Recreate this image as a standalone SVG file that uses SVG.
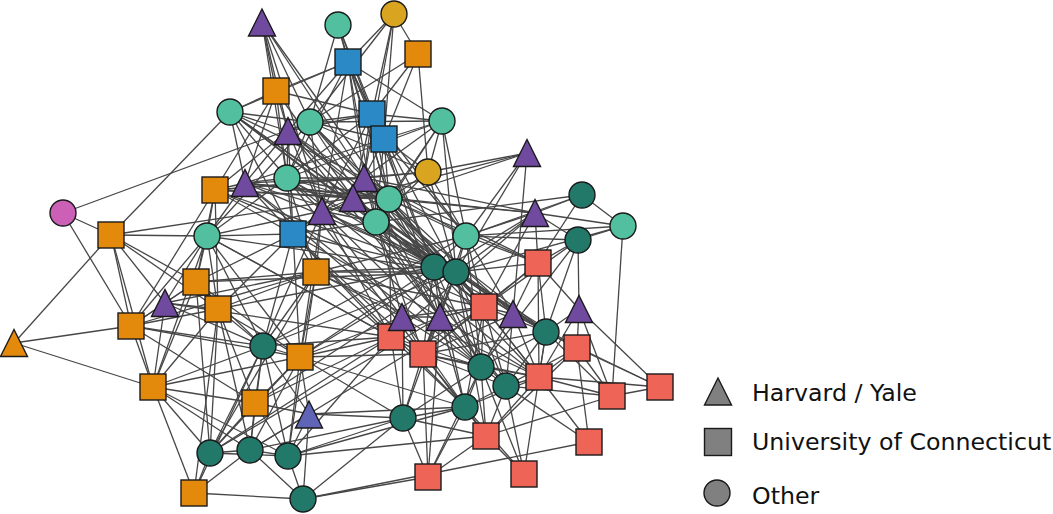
<svg xmlns="http://www.w3.org/2000/svg" xmlns:xlink="http://www.w3.org/1999/xlink" width="1053" height="514" viewBox="0 0 1053 514">
<style>
#edges path{stroke:#474747;stroke-width:1.3;fill:none}
.nd use,.lg use{stroke:#1a1a1a;stroke-width:1.4}
.mint{fill:#52bf9f}.dark{fill:#22796a}.orange{fill:#e3890c}.blue{fill:#2b89c5}.gold{fill:#d9a41f}.purple{fill:#704a9f}.coral{fill:#ee6557}.pink{fill:#cc60b6}.bp{fill:#5f64b6}.grey{fill:#808080}
text{font-family:"DejaVu Sans","Liberation Sans",sans-serif;font-size:23.7px;fill:#111}
</style>
<defs>
<rect id="sq" x="-13" y="-13" width="26" height="26"/>
<circle id="ci" r="13"/>
<path id="tr" d="M0,-13.5L13.5,13.5H-13.5Z"/>
</defs>
<rect width="1053" height="514" fill="#fff"/>
<g id="edges">
<path d="M262 22L276 91"/><path d="M262 22L310 122"/><path d="M262 22L288 131"/><path d="M262 22L287 178"/><path d="M262 22L364 178"/><path d="M262 22L389 199"/><path d="M262 22L322 211"/>
<path d="M338 25L348 62"/><path d="M338 25L310 122"/><path d="M338 25L372 114"/><path d="M338 25L384 139"/><path d="M338 25L389 199"/>
<path d="M394 14L418 54"/><path d="M394 14L348 62"/><path d="M394 14L372 114"/><path d="M394 14L384 139"/><path d="M394 14L310 122"/><path d="M394 14L364 178"/>
<path d="M418 54L372 114"/><path d="M418 54L384 139"/><path d="M418 54L428 172"/><path d="M418 54L310 122"/>
<path d="M348 62L276 91"/><path d="M348 62L230 112"/><path d="M348 62L288 131"/><path d="M348 62L372 114"/><path d="M348 62L384 139"/><path d="M348 62L442 121"/><path d="M348 62L287 178"/><path d="M348 62L364 178"/><path d="M348 62L389 199"/><path d="M348 62L376 222"/><path d="M348 62L322 211"/><path d="M348 62L434 267"/>
<path d="M276 91L230 112"/><path d="M276 91L288 131"/><path d="M276 91L287 178"/><path d="M276 91L245 183"/><path d="M276 91L215 190"/><path d="M276 91L353 198"/><path d="M276 91L372 114"/>
<path d="M230 112L310 122"/><path d="M230 112L288 131"/><path d="M230 112L287 178"/><path d="M230 112L245 183"/><path d="M230 112L364 178"/><path d="M230 112L353 198"/><path d="M230 112L376 222"/><path d="M230 112L111 235"/><path d="M230 112L293 234"/><path d="M230 112L456 272"/><path d="M230 112L484 307"/>
<path d="M310 122L288 131"/><path d="M310 122L372 114"/><path d="M310 122L384 139"/><path d="M310 122L442 121"/><path d="M310 122L287 178"/><path d="M310 122L364 178"/><path d="M310 122L389 199"/><path d="M310 122L376 222"/><path d="M310 122L322 211"/><path d="M310 122L63 213"/><path d="M310 122L434 267"/><path d="M310 122L428 172"/><path d="M310 122L207 236"/>
<path d="M288 131L287 178"/><path d="M288 131L245 183"/><path d="M288 131L215 190"/><path d="M288 131L353 198"/><path d="M288 131L322 211"/><path d="M288 131L293 234"/><path d="M288 131L456 272"/><path d="M288 131L389 199"/><path d="M288 131L372 114"/><path d="M288 131L440 317"/><path d="M288 131L546 332"/>
<path d="M372 114L384 139"/><path d="M372 114L442 121"/><path d="M372 114L287 178"/><path d="M372 114L364 178"/><path d="M372 114L353 198"/><path d="M372 114L389 199"/><path d="M372 114L376 222"/><path d="M372 114L456 272"/><path d="M372 114L466 236"/><path d="M372 114L322 211"/>
<path d="M384 139L442 121"/><path d="M384 139L428 172"/><path d="M384 139L364 178"/><path d="M384 139L389 199"/><path d="M384 139L376 222"/><path d="M384 139L434 267"/><path d="M384 139L245 183"/><path d="M384 139L466 236"/><path d="M384 139L440 317"/>
<path d="M442 121L428 172"/><path d="M442 121L389 199"/><path d="M442 121L376 222"/><path d="M442 121L364 178"/><path d="M442 121L466 236"/><path d="M442 121L456 272"/><path d="M442 121L287 178"/>
<path d="M428 172L389 199"/><path d="M428 172L527 153"/><path d="M428 172L466 236"/><path d="M428 172L364 178"/><path d="M428 172L376 222"/><path d="M428 172L456 272"/><path d="M428 172L215 190"/>
<path d="M287 178L245 183"/><path d="M287 178L364 178"/><path d="M287 178L353 198"/><path d="M287 178L389 199"/><path d="M287 178L322 211"/><path d="M287 178L293 234"/><path d="M287 178L207 236"/><path d="M287 178L434 267"/><path d="M287 178L456 272"/><path d="M287 178L316 272"/><path d="M287 178L423 354"/><path d="M287 178L539 377"/>
<path d="M245 183L215 190"/><path d="M245 183L364 178"/><path d="M245 183L353 198"/><path d="M245 183L389 199"/><path d="M245 183L293 234"/><path d="M245 183L207 236"/><path d="M245 183L376 222"/><path d="M245 183L456 272"/><path d="M245 183L535 213"/><path d="M245 183L402 317"/><path d="M245 183L481 367"/>
<path d="M215 190L364 178"/><path d="M215 190L353 198"/><path d="M215 190L389 199"/><path d="M215 190L293 234"/><path d="M215 190L207 236"/><path d="M215 190L196 282"/><path d="M215 190L218 309"/><path d="M215 190L131 326"/><path d="M215 190L434 267"/><path d="M215 190L484 307"/>
<path d="M364 178L353 198"/><path d="M364 178L389 199"/><path d="M364 178L376 222"/><path d="M364 178L322 211"/><path d="M364 178L293 234"/><path d="M364 178L466 236"/><path d="M364 178L434 267"/><path d="M364 178L456 272"/><path d="M364 178L484 307"/><path d="M364 178L440 317"/><path d="M364 178L535 213"/><path d="M364 178L538 263"/>
<path d="M353 198L389 199"/><path d="M353 198L376 222"/><path d="M353 198L322 211"/><path d="M353 198L293 234"/><path d="M353 198L434 267"/><path d="M353 198L456 272"/><path d="M353 198L440 317"/><path d="M353 198L484 307"/><path d="M353 198L546 332"/><path d="M353 198L111 235"/><path d="M353 198L527 153"/>
<path d="M389 199L376 222"/><path d="M389 199L322 211"/><path d="M389 199L466 236"/><path d="M389 199L434 267"/><path d="M389 199L456 272"/><path d="M389 199L527 153"/><path d="M389 199L535 213"/><path d="M389 199L538 263"/><path d="M389 199L484 307"/><path d="M389 199L513 314"/><path d="M389 199L481 367"/><path d="M389 199L391 337"/>
<path d="M376 222L322 211"/><path d="M376 222L293 234"/><path d="M376 222L434 267"/><path d="M376 222L456 272"/><path d="M376 222L582 195"/><path d="M376 222L440 317"/><path d="M376 222L402 317"/><path d="M376 222L423 354"/><path d="M376 222L546 332"/><path d="M376 222L484 307"/><path d="M376 222L506 386"/>
<path d="M322 211L293 234"/><path d="M322 211L207 236"/><path d="M322 211L316 272"/><path d="M322 211L434 267"/><path d="M322 211L456 272"/><path d="M322 211L391 337"/><path d="M322 211L402 317"/><path d="M322 211L300 357"/><path d="M322 211L263 346"/><path d="M322 211L481 367"/>
<path d="M293 234L207 236"/><path d="M293 234L316 272"/><path d="M293 234L263 346"/><path d="M293 234L300 357"/><path d="M293 234L218 309"/><path d="M293 234L434 267"/><path d="M293 234L391 337"/><path d="M293 234L196 282"/><path d="M293 234L440 317"/><path d="M293 234L423 354"/><path d="M293 234L465 407"/>
<path d="M207 236L111 235"/><path d="M207 236L196 282"/><path d="M207 236L218 309"/><path d="M207 236L131 326"/><path d="M207 236L165 303"/><path d="M207 236L263 346"/><path d="M207 236L456 272"/><path d="M207 236L153 387"/><path d="M207 236L391 337"/><path d="M207 236L300 357"/><path d="M207 236L423 354"/>
<path d="M63 213L111 235"/><path d="M63 213L131 326"/>
<path d="M111 235L14 343"/><path d="M111 235L131 326"/><path d="M111 235L153 387"/><path d="M111 235L218 309"/><path d="M111 235L196 282"/><path d="M111 235L165 303"/>
<path d="M527 153L466 236"/><path d="M527 153L513 314"/><path d="M527 153L456 272"/>
<path d="M582 195L535 213"/><path d="M582 195L466 236"/><path d="M582 195L538 263"/><path d="M582 195L623 226"/>
<path d="M535 213L623 226"/><path d="M535 213L578 240"/><path d="M535 213L466 236"/><path d="M535 213L456 272"/><path d="M535 213L538 263"/><path d="M535 213L391 337"/><path d="M535 213L484 307"/><path d="M535 213L300 357"/>
<path d="M623 226L578 240"/><path d="M623 226L466 236"/><path d="M623 226L612 396"/><path d="M623 226L456 272"/>
<path d="M578 240L538 263"/><path d="M578 240L579 309"/><path d="M578 240L546 332"/><path d="M578 240L466 236"/><path d="M578 240L484 307"/><path d="M578 240L481 367"/>
<path d="M466 236L434 267"/><path d="M466 236L456 272"/><path d="M466 236L538 263"/><path d="M466 236L484 307"/><path d="M466 236L513 314"/><path d="M466 236L481 367"/><path d="M466 236L423 354"/><path d="M466 236L316 272"/><path d="M466 236L263 346"/>
<path d="M434 267L456 272"/><path d="M434 267L484 307"/><path d="M434 267L440 317"/><path d="M434 267L423 354"/><path d="M434 267L391 337"/><path d="M434 267L481 367"/><path d="M434 267L465 407"/><path d="M434 267L546 332"/><path d="M434 267L300 357"/><path d="M434 267L316 272"/><path d="M434 267L539 377"/><path d="M434 267L218 309"/>
<path d="M456 272L538 263"/><path d="M456 272L484 307"/><path d="M456 272L440 317"/><path d="M456 272L513 314"/><path d="M456 272L546 332"/><path d="M456 272L423 354"/><path d="M456 272L481 367"/><path d="M456 272L539 377"/><path d="M456 272L506 386"/><path d="M456 272L486 436"/><path d="M456 272L577 348"/><path d="M456 272L316 272"/><path d="M456 272L263 346"/><path d="M456 272L403 418"/><path d="M456 272L196 282"/><path d="M456 272L255 403"/>
<path d="M538 263L484 307"/><path d="M538 263L513 314"/><path d="M538 263L546 332"/><path d="M538 263L539 377"/><path d="M538 263L579 309"/><path d="M538 263L423 354"/>
<path d="M484 307L440 317"/><path d="M484 307L513 314"/><path d="M484 307L546 332"/><path d="M484 307L423 354"/><path d="M484 307L481 367"/><path d="M484 307L506 386"/><path d="M484 307L539 377"/><path d="M484 307L465 407"/><path d="M484 307L402 317"/><path d="M484 307L316 272"/><path d="M484 307L250 450"/>
<path d="M440 317L423 354"/><path d="M440 317L391 337"/><path d="M440 317L402 317"/><path d="M440 317L481 367"/><path d="M440 317L465 407"/><path d="M440 317L506 386"/><path d="M440 317L539 377"/><path d="M440 317L428 477"/><path d="M440 317L210 453"/>
<path d="M513 314L546 332"/><path d="M513 314L577 348"/><path d="M513 314L481 367"/><path d="M513 314L539 377"/><path d="M513 314L506 386"/><path d="M513 314L423 354"/>
<path d="M579 309L577 348"/><path d="M579 309L660 387"/><path d="M579 309L546 332"/><path d="M579 309L539 377"/><path d="M579 309L612 396"/>
<path d="M546 332L577 348"/><path d="M546 332L481 367"/><path d="M546 332L539 377"/><path d="M546 332L506 386"/><path d="M546 332L524 474"/><path d="M546 332L612 396"/><path d="M546 332L423 354"/><path d="M546 332L660 387"/>
<path d="M577 348L539 377"/><path d="M577 348L589 442"/><path d="M577 348L612 396"/><path d="M577 348L660 387"/><path d="M577 348L506 386"/><path d="M577 348L486 436"/>
<path d="M423 354L391 337"/><path d="M423 354L402 317"/><path d="M423 354L481 367"/><path d="M423 354L465 407"/><path d="M423 354L428 477"/><path d="M423 354L403 418"/><path d="M423 354L506 386"/><path d="M423 354L539 377"/><path d="M423 354L486 436"/><path d="M423 354L300 357"/>
<path d="M391 337L402 317"/><path d="M391 337L300 357"/><path d="M391 337L316 272"/><path d="M391 337L403 418"/><path d="M391 337L263 346"/><path d="M391 337L465 407"/><path d="M391 337L481 367"/><path d="M391 337L288 456"/><path d="M391 337L165 303"/>
<path d="M402 317L481 367"/><path d="M402 317L316 272"/><path d="M402 317L300 357"/><path d="M402 317L465 407"/><path d="M402 317L403 418"/>
<path d="M481 367L539 377"/><path d="M481 367L506 386"/><path d="M481 367L465 407"/><path d="M481 367L486 436"/><path d="M481 367L524 474"/><path d="M481 367L428 477"/><path d="M481 367L403 418"/>
<path d="M539 377L506 386"/><path d="M539 377L465 407"/><path d="M539 377L486 436"/><path d="M539 377L589 442"/><path d="M539 377L612 396"/><path d="M539 377L660 387"/><path d="M539 377L316 272"/>
<path d="M506 386L465 407"/><path d="M506 386L486 436"/><path d="M506 386L524 474"/><path d="M506 386L612 396"/><path d="M506 386L589 442"/>
<path d="M465 407L486 436"/><path d="M465 407L428 477"/><path d="M465 407L403 418"/><path d="M465 407L524 474"/><path d="M465 407L309 414"/><path d="M465 407L300 357"/>
<path d="M486 436L524 474"/><path d="M486 436L612 396"/><path d="M486 436L428 477"/><path d="M486 436L403 418"/>
<path d="M612 396L660 387"/>
<path d="M428 477L403 418"/><path d="M428 477L303 499"/>
<path d="M403 418L303 499"/><path d="M403 418L288 456"/><path d="M403 418L309 414"/><path d="M403 418L300 357"/>
<path d="M303 499L288 456"/><path d="M303 499L250 450"/><path d="M303 499L194 493"/><path d="M303 499L309 414"/><path d="M303 499L589 442"/>
<path d="M288 456L250 450"/><path d="M288 456L210 453"/><path d="M288 456L255 403"/><path d="M288 456L309 414"/><path d="M288 456L300 357"/><path d="M288 456L263 346"/><path d="M288 456L153 387"/><path d="M288 456L316 272"/><path d="M288 456L465 407"/><path d="M288 456L486 436"/>
<path d="M250 450L210 453"/><path d="M250 450L194 493"/><path d="M250 450L255 403"/><path d="M250 450L309 414"/><path d="M250 450L300 357"/><path d="M250 450L263 346"/><path d="M250 450L153 387"/><path d="M250 450L218 309"/><path d="M250 450L403 418"/>
<path d="M210 453L194 493"/><path d="M210 453L255 403"/><path d="M210 453L300 357"/><path d="M210 453L263 346"/><path d="M210 453L153 387"/><path d="M210 453L218 309"/><path d="M210 453L196 282"/><path d="M210 453L316 272"/><path d="M210 453L391 337"/>
<path d="M194 493L153 387"/><path d="M194 493L263 346"/><path d="M194 493L218 309"/>
<path d="M255 403L309 414"/><path d="M255 403L300 357"/><path d="M255 403L263 346"/><path d="M255 403L153 387"/><path d="M255 403L131 326"/><path d="M255 403L218 309"/><path d="M255 403L391 337"/>
<path d="M309 414L300 357"/><path d="M309 414L263 346"/>
<path d="M300 357L263 346"/><path d="M300 357L316 272"/><path d="M300 357L153 387"/><path d="M300 357L131 326"/><path d="M300 357L218 309"/><path d="M300 357L196 282"/>
<path d="M263 346L316 272"/><path d="M263 346L153 387"/><path d="M263 346L131 326"/><path d="M263 346L165 303"/><path d="M263 346L196 282"/><path d="M263 346L218 309"/>
<path d="M316 272L165 303"/><path d="M316 272L196 282"/><path d="M316 272L218 309"/><path d="M316 272L131 326"/>
<path d="M153 387L131 326"/><path d="M153 387L165 303"/><path d="M153 387L196 282"/><path d="M153 387L218 309"/><path d="M153 387L14 343"/>
<path d="M131 326L165 303"/><path d="M131 326L196 282"/><path d="M131 326L218 309"/><path d="M131 326L14 343"/>
<path d="M165 303L196 282"/><path d="M165 303L218 309"/><path d="M196 282L218 309"/>
</g>
<g class="nd">
<g id="n1" transform="translate(262,22.5)"><use xlink:href="#tr" class="purple"/></g>
<g id="n2" transform="translate(338,25)"><use xlink:href="#ci" class="mint"/></g>
<g id="n3" transform="translate(394,14)"><use xlink:href="#ci" class="gold"/></g>
<g id="n4" transform="translate(418,54)"><use xlink:href="#sq" class="orange"/></g>
<g id="n5" transform="translate(348,62)"><use xlink:href="#sq" class="blue"/></g>
<g id="n6" transform="translate(276,91)"><use xlink:href="#sq" class="orange"/></g>
<g id="n7" transform="translate(230,112)"><use xlink:href="#ci" class="mint"/></g>
<g id="n8" transform="translate(310,122)"><use xlink:href="#ci" class="mint"/></g>
<g id="n9" transform="translate(288,131)"><use xlink:href="#tr" class="purple"/></g>
<g id="n10" transform="translate(372,114)"><use xlink:href="#sq" class="blue"/></g>
<g id="n11" transform="translate(384,139)"><use xlink:href="#sq" class="blue"/></g>
<g id="n12" transform="translate(442,121)"><use xlink:href="#ci" class="mint"/></g>
<g id="n13" transform="translate(428,172)"><use xlink:href="#ci" class="gold"/></g>
<g id="n14" transform="translate(287,178)"><use xlink:href="#ci" class="mint"/></g>
<g id="n15" transform="translate(245,183)"><use xlink:href="#tr" class="purple"/></g>
<g id="n16" transform="translate(215,190)"><use xlink:href="#sq" class="orange"/></g>
<g id="n17" transform="translate(364,178)"><use xlink:href="#tr" class="purple"/></g>
<g id="n18" transform="translate(353,198)"><use xlink:href="#tr" class="purple"/></g>
<g id="n19" transform="translate(389,199)"><use xlink:href="#ci" class="mint"/></g>
<g id="n20" transform="translate(376,222)"><use xlink:href="#ci" class="mint"/></g>
<g id="n21" transform="translate(322,211)"><use xlink:href="#tr" class="purple"/></g>
<g id="n22" transform="translate(293,234)"><use xlink:href="#sq" class="blue"/></g>
<g id="n23" transform="translate(207,236)"><use xlink:href="#ci" class="mint"/></g>
<g id="n24" transform="translate(63,213)"><use xlink:href="#ci" class="pink"/></g>
<g id="n25" transform="translate(111,235)"><use xlink:href="#sq" class="orange"/></g>
<g id="n26" transform="translate(527,153)"><use xlink:href="#tr" class="purple"/></g>
<g id="n27" transform="translate(582,195)"><use xlink:href="#ci" class="dark"/></g>
<g id="n28" transform="translate(535,213)"><use xlink:href="#tr" class="purple"/></g>
<g id="n29" transform="translate(623,226)"><use xlink:href="#ci" class="mint"/></g>
<g id="n30" transform="translate(578,240)"><use xlink:href="#ci" class="dark"/></g>
<g id="n31" transform="translate(466,236)"><use xlink:href="#ci" class="mint"/></g>
<g id="n32" transform="translate(434,267)"><use xlink:href="#ci" class="dark"/></g>
<g id="n33" transform="translate(456,272)"><use xlink:href="#ci" class="dark"/></g>
<g id="n34" transform="translate(538,263)"><use xlink:href="#sq" class="coral"/></g>
<g id="n35" transform="translate(484,307)"><use xlink:href="#sq" class="coral"/></g>
<g id="n36" transform="translate(440,317)"><use xlink:href="#tr" class="purple"/></g>
<g id="n37" transform="translate(513,314)"><use xlink:href="#tr" class="purple"/></g>
<g id="n38" transform="translate(579,309)"><use xlink:href="#tr" class="purple"/></g>
<g id="n39" transform="translate(546,332)"><use xlink:href="#ci" class="dark"/></g>
<g id="n40" transform="translate(577,348)"><use xlink:href="#sq" class="coral"/></g>
<g id="n42" transform="translate(391,337)"><use xlink:href="#sq" class="coral"/></g>
<g id="n43" transform="translate(402,317)"><use xlink:href="#tr" class="purple"/></g>
<g id="n41" transform="translate(423,354)"><use xlink:href="#sq" class="coral"/></g>
<g id="n44" transform="translate(481,367)"><use xlink:href="#ci" class="dark"/></g>
<g id="n45" transform="translate(539,377)"><use xlink:href="#sq" class="coral"/></g>
<g id="n46" transform="translate(506,386)"><use xlink:href="#ci" class="dark"/></g>
<g id="n47" transform="translate(465,407)"><use xlink:href="#ci" class="dark"/></g>
<g id="n48" transform="translate(486,436)"><use xlink:href="#sq" class="coral"/></g>
<g id="n49" transform="translate(524,474)"><use xlink:href="#sq" class="coral"/></g>
<g id="n50" transform="translate(589,442)"><use xlink:href="#sq" class="coral"/></g>
<g id="n51" transform="translate(612,396)"><use xlink:href="#sq" class="coral"/></g>
<g id="n52" transform="translate(660,387)"><use xlink:href="#sq" class="coral"/></g>
<g id="n53" transform="translate(428,477)"><use xlink:href="#sq" class="coral"/></g>
<g id="n54" transform="translate(403,418)"><use xlink:href="#ci" class="dark"/></g>
<g id="n55" transform="translate(303,499)"><use xlink:href="#ci" class="dark"/></g>
<g id="n56" transform="translate(288,456)"><use xlink:href="#ci" class="dark"/></g>
<g id="n57" transform="translate(250,450)"><use xlink:href="#ci" class="dark"/></g>
<g id="n58" transform="translate(210,453)"><use xlink:href="#ci" class="dark"/></g>
<g id="n59" transform="translate(194,493)"><use xlink:href="#sq" class="orange"/></g>
<g id="n60" transform="translate(255,403)"><use xlink:href="#sq" class="orange"/></g>
<g id="n61" transform="translate(309,414.5)"><use xlink:href="#tr" class="bp"/></g>
<g id="n62" transform="translate(300,357)"><use xlink:href="#sq" class="orange"/></g>
<g id="n63" transform="translate(263,346)"><use xlink:href="#ci" class="dark"/></g>
<g id="n64" transform="translate(316,272)"><use xlink:href="#sq" class="orange"/></g>
<g id="n65" transform="translate(153,387)"><use xlink:href="#sq" class="orange"/></g>
<g id="n66" transform="translate(131,326)"><use xlink:href="#sq" class="orange"/></g>
<g id="n67" transform="translate(165,303)"><use xlink:href="#tr" class="purple"/></g>
<g id="n68" transform="translate(196,282)"><use xlink:href="#sq" class="orange"/></g>
<g id="n69" transform="translate(218,309)"><use xlink:href="#sq" class="orange"/></g>
<g id="n70" transform="translate(14,343)"><use xlink:href="#tr" class="orange"/></g>
</g>
<g id="legend" class="lg">
<g transform="translate(718,391.5)"><use xlink:href="#tr" class="grey"/></g>
<text x="752" y="401">Harvard / Yale</text>
<rect x="704.5" y="428.5" width="27" height="27" class="grey" stroke="#1a1a1a" stroke-width="1.4"/>
<text x="752" y="450">University of Connecticut</text>
<g transform="translate(717,493)"><use xlink:href="#ci" class="grey"/></g>
<text x="752" y="504">Other</text>
</g>
</svg>
